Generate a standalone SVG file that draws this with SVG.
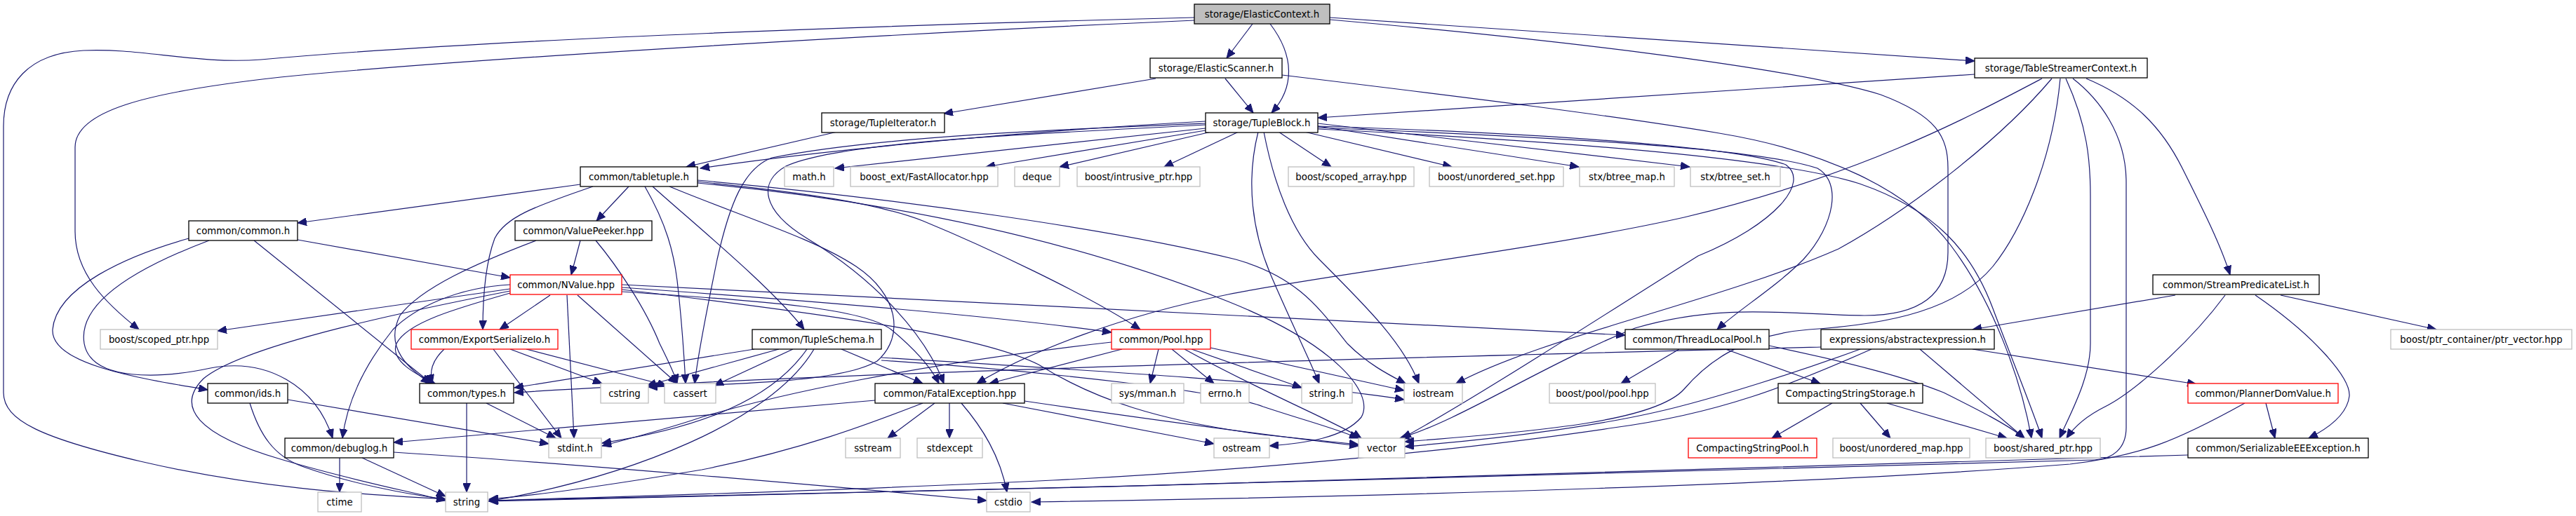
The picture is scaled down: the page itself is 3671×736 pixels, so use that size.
<svg xmlns="http://www.w3.org/2000/svg" width="3671" height="736" viewBox="0 0 3671 736">
<style>
text{font-family:"DejaVu Sans","Liberation Sans",sans-serif;font-size:13.33px;text-anchor:middle;fill:#000}
rect{fill:#fff;stroke:#000;stroke-width:1.3}
rect.ext{stroke:#bfbfbf}
rect.red{stroke:#ff0000}
rect.root{fill:#bfbfbf}
.edges path{fill:none;stroke:#191970;stroke-width:1.2;marker-end:url(#ah)}
</style>
<defs>
<marker id="ah" markerWidth="14" markerHeight="11" refX="13" refY="5.5" orient="auto" markerUnits="userSpaceOnUse"><path d="M0,0 L13,5.5 L0,11 z" fill="#191970" stroke="#191970" stroke-width="1"/></marker>
</defs>
<rect x="0" y="0" width="3671" height="736" style="fill:#fff;stroke:none"/>
<g class="edges" id="connectors">
<path d="M1785,34 L1748,83"/>
<path d="M1810,34 C1845,80 1845,125 1812,161"/>
<path d="M1895,25 L2814,87"/>
<path d="M1895,28 C2200,55 2550,95 2680,135 C2760,165 2776,195 2776,240 L2776,360 C2776,425 2730,450 2657,450 C2560,450 2460,430 2330,468 C2200,520 2080,600 1995,625"/>
<path d="M1702,29 C1400,42 700,80 400,110 C200,132 107,160 107,210 L107,330 C107,390 150,432 198,470"/>
<path d="M1702,25 C1300,35 700,55 372,85 C280,92 200,68 119,72 C40,76 5,120 5,180 L5,560 C5,600 60,625 200,658 C380,700 540,706 635,712"/>
<path d="M1647,112 L1345,162"/>
<path d="M1746,112 L1786,161"/>
<path d="M1827,107 C2100,140 2300,165 2450,190 C2600,215 2720,270 2780,350 C2840,430 2880,540 2895,625"/>
<path d="M2814,106 L1878,168"/>
<path d="M2973,112 C3040,140 3080,180 3110,240 C3140,300 3165,350 3178,392"/>
<path d="M2910,112 C2800,170 2650,250 2400,310 C2200,355 1900,390 1750,420 C1600,450 1470,500 1392,547"/>
<path d="M2924,112 C2850,200 2720,300 2620,355 C2450,430 2200,480 2075,547"/>
<path d="M2936,112 C2925,230 2880,330 2840,380 C2790,440 2700,462 2578,470 C2480,478 2430,520 2400,555 C2360,600 2200,615 2002,630"/>
<path d="M2944,112 C2975,180 2979,230 2979,280 L2979,490 C2979,540 2950,590 2935,625"/>
<path d="M2954,112 C2990,140 3030,190 3030,260 L3030,610 C3030,640 3010,655 2985,656 C2500,670 1400,700 697,715"/>
<path d="M1193,188 L978,238"/>
<path d="M1718,173 C1500,185 1200,210 998,240"/>
<path d="M1718,183 L1190,240"/>
<path d="M1718,186 L1405,238"/>
<path d="M1726,188 L1510,238"/>
<path d="M1765,188 L1659,238"/>
<path d="M1822,188 L1897,238"/>
<path d="M1859,188 L2069,238"/>
<path d="M1878,180 L2250,238"/>
<path d="M1878,176 L2408,238"/>
<path d="M1718,176 C1500,185 1250,195 1100,225 C1060,240 1040,290 1022,370 C1010,430 995,500 990,547"/>
<path d="M1718,178 C1500,190 1200,200 1120,237 C1080,260 1085,300 1150,340 C1250,400 1320,480 1345,547"/>
<path d="M1793,188 C1775,260 1785,330 1810,390 C1840,460 1865,510 1880,547"/>
<path d="M1801,188 C1815,260 1840,330 1880,370 C1950,440 2000,490 2022,547"/>
<path d="M1878,182 C2200,195 2500,210 2590,240 C2625,260 2615,320 2570,370 C2530,410 2480,440 2447,470"/>
<path d="M1878,180 C2200,190 2480,210 2545,235 C2580,260 2530,320 2420,365 C2300,440 2100,570 1998,625"/>
<path d="M1878,184 C2300,205 2550,230 2650,262 C2760,300 2810,360 2840,440 C2870,520 2895,580 2910,625"/>
<path d="M827,263 L424,318"/>
<path d="M896,266 L850,315"/>
<path d="M845,266 C760,295 720,310 705,340 C690,380 688,430 688,470"/>
<path d="M919,266 C950,320 960,360 965,400 C972,460 975,510 977,547"/>
<path d="M930,266 C990,320 1100,410 1146,470"/>
<path d="M954,266 C1060,310 1160,340 1220,380 C1280,420 1290,480 1250,515 C1200,545 1050,548 924,552"/>
<path d="M994,257 C1300,285 1600,330 1761,370 C1850,395 1880,440 1920,490 C1950,520 1980,535 2003,547"/>
<path d="M994,259 C1150,275 1250,290 1315,315 C1400,350 1550,420 1625,470"/>
<path d="M994,261 C1300,290 1550,350 1750,430 C1900,490 1960,560 1940,595 C1915,625 1860,632 1809,636"/>
<path d="M424,342 L727,396"/>
<path d="M362,343 L615,547"/>
<path d="M269,340 C180,365 80,410 75,470 C72,520 200,540 296,556"/>
<path d="M298,343 C200,380 110,430 120,490 C130,545 230,540 300,525 C380,510 450,550 474,625"/>
<path d="M827,343 L814,392"/>
<path d="M764,343 C680,375 600,410 570,450 C545,500 590,530 613,547"/>
<path d="M849,343 C880,380 920,440 940,490 C955,520 962,535 965,547"/>
<path d="M727,412 L310,472"/>
<path d="M784,421 L712,470"/>
<path d="M808,421 L818,625"/>
<path d="M823,421 L965,547"/>
<path d="M727,418 C650,440 580,460 565,490 C555,515 595,535 620,547"/>
<path d="M727,406 C650,410 590,440 560,470 C520,520 495,570 488,625"/>
<path d="M727,415 C600,440 350,490 290,540 C250,580 280,620 400,655 C500,685 580,700 635,714"/>
<path d="M886,410 C1200,432 1450,455 1584,474"/>
<path d="M886,406 C1500,440 2000,460 2316,478"/>
<path d="M886,413 C1200,450 1400,480 1480,520 C1560,570 1650,600 1800,620 L1936,634"/>
<path d="M886,416 C1100,430 1230,440 1270,470 C1300,495 1325,520 1338,547"/>
<path d="M633,498 C615,515 612,530 616,547"/>
<path d="M703,498 L800,625"/>
<path d="M727,498 L858,547"/>
<path d="M750,498 L950,550"/>
<path d="M1075,498 L733,553"/>
<path d="M1110,498 L922,550"/>
<path d="M1130,498 L1018,550"/>
<path d="M1150,498 C1100,570 1000,610 858,632"/>
<path d="M1160,498 C1100,600 900,680 697,715"/>
<path d="M1199,498 L1315,547"/>
<path d="M1256,514 C1500,530 1750,560 1800,580 C1860,600 1900,610 1936,625"/>
<path d="M1256,510 C1500,525 1850,545 2001,570"/>
<path d="M1599,498 L1410,547"/>
<path d="M1651,498 L1639,547"/>
<path d="M1670,498 L1730,547"/>
<path d="M1688,498 C1800,560 1900,600 1940,625"/>
<path d="M1698,498 L1855,553"/>
<path d="M1725,496 L2001,557"/>
<path d="M1584,488 C1300,520 1100,565 1000,595 C950,612 900,625 858,636"/>
<path d="M2393,498 L2310,547"/>
<path d="M2459,498 L2594,547"/>
<path d="M2521,493 C2650,520 2720,540 2770,560 C2820,585 2860,605 2885,625"/>
<path d="M2595,495 C2000,510 1200,530 733,560"/>
<path d="M2651,498 C2550,535 2450,565 2400,578 C2300,605 2150,625 2002,637"/>
<path d="M2667,498 C2550,550 2450,590 2300,610 C2100,640 1800,670 1500,685 C1200,700 900,708 697,714"/>
<path d="M2736,498 L2885,625"/>
<path d="M2811,498 L3130,548"/>
<path d="M3100,421 L2811,470"/>
<path d="M3250,421 L3472,470"/>
<path d="M3171,421 C3120,490 3040,560 3000,580 C2970,595 2955,610 2945,625"/>
<path d="M3214,421 C3300,480 3350,540 3348,565 C3345,590 3320,610 3290,625"/>
<path d="M3229,575 L3242,625"/>
<path d="M3199,575 C3100,630 3050,650 2950,662 C2600,690 2000,708 1470,716"/>
<path d="M3118,649 C2600,665 1500,700 697,714"/>
<path d="M2611,575 L2525,625"/>
<path d="M2651,575 L2694,625"/>
<path d="M2689,575 L2860,625"/>
<path d="M410,570 L782,633"/>
<path d="M356,575 C370,620 390,650 430,665 C500,690 580,705 635,712"/>
<path d="M665,575 L665,702"/>
<path d="M693,575 L792,625"/>
<path d="M1332,575 L1265,625"/>
<path d="M1353,575 L1353,625"/>
<path d="M1370,575 C1400,610 1425,650 1435,702"/>
<path d="M1429,575 L1730,633"/>
<path d="M1247,571 L561,631"/>
<path d="M1315,575 C1250,600 1150,640 1000,670 C850,695 750,708 697,712"/>
<path d="M1460,572 C1650,600 1800,620 1936,636"/>
<path d="M484,653 L484,702"/>
<path d="M561,645 C800,660 1200,695 1406,714"/>
<path d="M516,653 L635,708"/>
</g>
<g id="n_ElasticContext"><rect class="root" x="1702" y="6" width="193" height="28"/><text x="1798.5" y="25">storage/ElasticContext.h</text></g>
<g id="n_ElasticScanner"><rect x="1639" y="83" width="188" height="28"/><text x="1733" y="102">storage/ElasticScanner.h</text></g>
<g id="n_TableStreamerContext"><rect x="2814" y="83" width="246" height="28"/><text x="2937" y="102">storage/TableStreamerContext.h</text></g>
<g id="n_TupleIterator"><rect x="1171" y="161" width="175" height="28"/><text x="1258.5" y="180">storage/TupleIterator.h</text></g>
<g id="n_TupleBlock"><rect x="1718" y="161" width="160" height="28"/><text x="1798" y="180">storage/TupleBlock.h</text></g>
<g id="n_tabletuple"><rect x="827" y="238" width="167" height="28"/><text x="910.5" y="257">common/tabletuple.h</text></g>
<g id="n_math"><rect class="ext" x="1118" y="238" width="70" height="28"/><text x="1153" y="257">math.h</text></g>
<g id="n_FastAllocator"><rect class="ext" x="1212" y="238" width="210" height="28"/><text x="1317" y="257">boost_ext/FastAllocator.hpp</text></g>
<g id="n_deque"><rect class="ext" x="1446" y="238" width="64" height="28"/><text x="1478" y="257">deque</text></g>
<g id="n_intrusive_ptr"><rect class="ext" x="1535" y="238" width="175" height="28"/><text x="1622.5" y="257">boost/intrusive_ptr.hpp</text></g>
<g id="n_scoped_array"><rect class="ext" x="1836" y="238" width="179" height="28"/><text x="1925.5" y="257">boost/scoped_array.hpp</text></g>
<g id="n_unordered_set"><rect class="ext" x="2037" y="238" width="191" height="28"/><text x="2132.5" y="257">boost/unordered_set.hpp</text></g>
<g id="n_btree_map"><rect class="ext" x="2251" y="238" width="135" height="28"/><text x="2318.5" y="257">stx/btree_map.h</text></g>
<g id="n_btree_set"><rect class="ext" x="2409" y="238" width="128" height="28"/><text x="2473" y="257">stx/btree_set.h</text></g>
<g id="n_common"><rect x="269" y="315" width="155" height="28"/><text x="346.5" y="334">common/common.h</text></g>
<g id="n_ValuePeeker"><rect x="734" y="315" width="195" height="28"/><text x="831.5" y="334">common/ValuePeeker.hpp</text></g>
<g id="n_NValue"><rect class="red" x="727" y="392" width="159" height="28"/><text x="806.5" y="411">common/NValue.hpp</text></g>
<g id="n_StreamPredicateList"><rect x="3068" y="392" width="237" height="28"/><text x="3186.5" y="411">common/StreamPredicateList.h</text></g>
<g id="n_scoped_ptr"><rect class="ext" x="143" y="470" width="167" height="28"/><text x="226.5" y="489">boost/scoped_ptr.hpp</text></g>
<g id="n_ExportSerializeIo"><rect class="red" x="586" y="470" width="209" height="28"/><text x="690.5" y="489">common/ExportSerializeIo.h</text></g>
<g id="n_TupleSchema"><rect x="1072" y="470" width="184" height="28"/><text x="1164" y="489">common/TupleSchema.h</text></g>
<g id="n_Pool"><rect class="red" x="1584" y="470" width="141" height="28"/><text x="1654.5" y="489">common/Pool.hpp</text></g>
<g id="n_ThreadLocalPool"><rect x="2316" y="470" width="205" height="28"/><text x="2418.5" y="489">common/ThreadLocalPool.h</text></g>
<g id="n_abstractexpression"><rect x="2595" y="470" width="247" height="28"/><text x="2718.5" y="489">expressions/abstractexpression.h</text></g>
<g id="n_ptr_vector"><rect class="ext" x="3407" y="470" width="258" height="28"/><text x="3536" y="489">boost/ptr_container/ptr_vector.hpp</text></g>
<g id="n_ids"><rect x="296" y="547" width="114" height="28"/><text x="353" y="566">common/ids.h</text></g>
<g id="n_types"><rect x="598" y="547" width="134" height="28"/><text x="665" y="566">common/types.h</text></g>
<g id="n_cstring"><rect class="ext" x="856" y="547" width="68" height="28"/><text x="890" y="566">cstring</text></g>
<g id="n_cassert"><rect class="ext" x="947" y="547" width="73" height="28"/><text x="983.5" y="566">cassert</text></g>
<g id="n_FatalException"><rect x="1247" y="547" width="213" height="28"/><text x="1353.5" y="566">common/FatalException.hpp</text></g>
<g id="n_mman"><rect class="ext" x="1584" y="547" width="103" height="28"/><text x="1635.5" y="566">sys/mman.h</text></g>
<g id="n_errno"><rect class="ext" x="1711" y="547" width="69" height="28"/><text x="1745.5" y="566">errno.h</text></g>
<g id="n_string_h"><rect class="ext" x="1855" y="547" width="72" height="28"/><text x="1891" y="566">string.h</text></g>
<g id="n_iostream"><rect class="ext" x="2001" y="547" width="83" height="28"/><text x="2042.5" y="566">iostream</text></g>
<g id="n_pool_hpp"><rect class="ext" x="2208" y="547" width="151" height="28"/><text x="2283.5" y="566">boost/pool/pool.hpp</text></g>
<g id="n_CompactingStringStorage"><rect x="2534" y="547" width="206" height="28"/><text x="2637" y="566">CompactingStringStorage.h</text></g>
<g id="n_PlannerDomValue"><rect class="red" x="3118" y="547" width="214" height="28"/><text x="3225" y="566">common/PlannerDomValue.h</text></g>
<g id="n_debuglog"><rect x="406" y="625" width="155" height="28"/><text x="483.5" y="644">common/debuglog.h</text></g>
<g id="n_stdint"><rect class="ext" x="782" y="625" width="75" height="28"/><text x="819.5" y="644">stdint.h</text></g>
<g id="n_sstream"><rect class="ext" x="1205" y="625" width="78" height="28"/><text x="1244" y="644">sstream</text></g>
<g id="n_stdexcept"><rect class="ext" x="1307" y="625" width="93" height="28"/><text x="1353.5" y="644">stdexcept</text></g>
<g id="n_ostream"><rect class="ext" x="1730" y="625" width="79" height="28"/><text x="1769.5" y="644">ostream</text></g>
<g id="n_vector"><rect class="ext" x="1936" y="625" width="66" height="28"/><text x="1969" y="644">vector</text></g>
<g id="n_CompactingStringPool"><rect class="red" x="2406" y="625" width="183" height="28"/><text x="2497.5" y="644">CompactingStringPool.h</text></g>
<g id="n_unordered_map"><rect class="ext" x="2612" y="625" width="195" height="28"/><text x="2709.5" y="644">boost/unordered_map.hpp</text></g>
<g id="n_shared_ptr"><rect class="ext" x="2830" y="625" width="163" height="28"/><text x="2911.5" y="644">boost/shared_ptr.hpp</text></g>
<g id="n_SerializableEEException"><rect x="3118" y="625" width="257" height="28"/><text x="3246.5" y="644">common/SerializableEEException.h</text></g>
<g id="n_ctime"><rect class="ext" x="453" y="702" width="62" height="28"/><text x="484" y="721">ctime</text></g>
<g id="n_string"><rect class="ext" x="635" y="702" width="60" height="28"/><text x="665" y="721">string</text></g>
<g id="n_cstdio"><rect class="ext" x="1406" y="702" width="62" height="28"/><text x="1437" y="721">cstdio</text></g>
</svg>
